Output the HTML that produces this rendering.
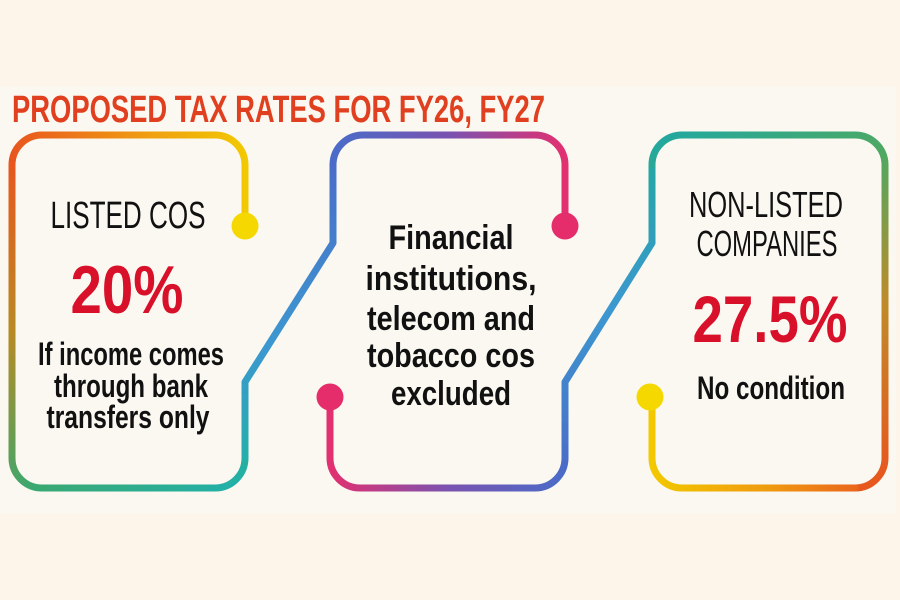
<!DOCTYPE html>
<html><head><meta charset="utf-8"><style>
html,body{margin:0;padding:0;background:#fdf4ea;}
svg{display:block}
text{font-family:"Liberation Sans Narrow","Liberation Sans",sans-serif;font-weight:bold;}
</style></head><body>
<svg width="900" height="600" viewBox="0 0 900 600" xmlns="http://www.w3.org/2000/svg">
<defs>
<linearGradient id="gA" gradientUnits="userSpaceOnUse" x1="12" y1="0" x2="245" y2="0"><stop offset="0" stop-color="#e8561e"/><stop offset="0.6" stop-color="#f0a010"/><stop offset="1" stop-color="#f2c800"/></linearGradient>
<linearGradient id="gB" gradientUnits="userSpaceOnUse" x1="12" y1="160" x2="245" y2="480"><stop offset="0" stop-color="#e8561e"/><stop offset="0.35" stop-color="#b88a24"/><stop offset="0.7" stop-color="#3aa870"/><stop offset="1" stop-color="#22b0a8"/></linearGradient>
<linearGradient id="gC" gradientUnits="userSpaceOnUse" x1="0" y1="470" x2="0" y2="160"><stop offset="0" stop-color="#22b0a8"/><stop offset="0.4" stop-color="#3c98d0"/><stop offset="1" stop-color="#4a6cc8"/></linearGradient>
<linearGradient id="gC2" gradientUnits="userSpaceOnUse" x1="333" y1="0" x2="565" y2="0"><stop offset="0" stop-color="#4a6cc8"/><stop offset="0.5" stop-color="#7a52b0"/><stop offset="1" stop-color="#e23070"/></linearGradient>
<linearGradient id="gD" gradientUnits="userSpaceOnUse" x1="330" y1="0" x2="565" y2="0"><stop offset="0" stop-color="#e23070"/><stop offset="0.5" stop-color="#7a52b0"/><stop offset="1" stop-color="#4a6cc8"/></linearGradient>
<linearGradient id="gD2" gradientUnits="userSpaceOnUse" x1="0" y1="470" x2="0" y2="150"><stop offset="0" stop-color="#4a6cc8"/><stop offset="0.5" stop-color="#3c98d0"/><stop offset="1" stop-color="#22a8a0"/></linearGradient>
<linearGradient id="gE" gradientUnits="userSpaceOnUse" x1="652" y1="140" x2="885" y2="480"><stop offset="0" stop-color="#22a8a0"/><stop offset="0.35" stop-color="#50a860"/><stop offset="0.65" stop-color="#c08a28"/><stop offset="1" stop-color="#e8561e"/></linearGradient>
<linearGradient id="gF" gradientUnits="userSpaceOnUse" x1="885" y1="0" x2="652" y2="0"><stop offset="0" stop-color="#e8561e"/><stop offset="0.5" stop-color="#f09a10"/><stop offset="1" stop-color="#f2c800"/></linearGradient>
<filter id="sh" x="-10%" y="-10%" width="120%" height="120%"><feGaussianBlur stdDeviation="6"/></filter>
</defs>
<rect x="0" y="87" width="896" height="426" fill="#faf8f1"/>
<text x="12" y="122" font-size="38" fill="#e0401f" textLength="533" lengthAdjust="spacingAndGlyphs">PROPOSED TAX RATES FOR FY26, FY27</text>
<g fill="none" stroke-width="7" stroke-linecap="round" stroke-linejoin="round">
<path d="M245 225 V165 A30 30 0 0 0 215 135 H42 A30 30 0 0 0 12 165" stroke="url(#gA)"/>
<path d="M12 165 V458 A30 30 0 0 0 42 488 H215 A30 30 0 0 0 245 458" stroke="url(#gB)"/>
<path d="M245 458 V382 L333 243 V165" stroke="url(#gC)"/>
<path d="M333 165 A30 30 0 0 1 363 135 H535 A30 30 0 0 1 565 165 V225" stroke="url(#gC2)"/>
<path d="M330 397 V458 A30 30 0 0 0 360 488 H535 A30 30 0 0 0 565 458" stroke="url(#gD)"/>
<path d="M565 458 V382 L652 243 V165" stroke="url(#gD2)"/>
<path d="M652 165 A30 30 0 0 1 682 135 H855 A30 30 0 0 1 885 165 V458 A30 30 0 0 1 855 488" stroke="url(#gE)"/>
<path d="M855 488 H682 A30 30 0 0 1 652 458 V397" stroke="url(#gF)"/>
</g>
<circle cx="245" cy="226" r="13.5" fill="#f5d800"/>
<circle cx="565" cy="226" r="13.5" fill="#e42d6a"/>
<circle cx="330" cy="397" r="13.5" fill="#e42d6a"/>
<circle cx="650" cy="397" r="13.5" fill="#f5d800"/>
<g fill="#111" text-anchor="middle">
<text x="128" y="228" font-size="38" font-weight="normal" textLength="155" lengthAdjust="spacingAndGlyphs" style="font-weight:normal">LISTED COS</text>
<text x="127" y="313" font-size="68" fill="#d8102a" textLength="113" lengthAdjust="spacingAndGlyphs">20%</text>
<text x="131" y="365" font-size="32" textLength="186" lengthAdjust="spacingAndGlyphs">If income comes</text>
<text x="131" y="397" font-size="32" textLength="154" lengthAdjust="spacingAndGlyphs">through bank</text>
<text x="128" y="428" font-size="32" textLength="163" lengthAdjust="spacingAndGlyphs">transfers only</text>
<text x="451" y="249" font-size="34" textLength="125" lengthAdjust="spacingAndGlyphs">Financial</text>
<text x="451" y="290" font-size="34" textLength="171" lengthAdjust="spacingAndGlyphs">institutions,</text>
<text x="451" y="330" font-size="34" textLength="168" lengthAdjust="spacingAndGlyphs">telecom and</text>
<text x="451" y="367" font-size="34" textLength="168" lengthAdjust="spacingAndGlyphs">tobacco cos</text>
<text x="451" y="405" font-size="34" textLength="120" lengthAdjust="spacingAndGlyphs">excluded</text>
<text x="766" y="217" font-size="36" textLength="154" lengthAdjust="spacingAndGlyphs" style="font-weight:normal">NON-LISTED</text>
<text x="767" y="256" font-size="36" textLength="141" lengthAdjust="spacingAndGlyphs" style="font-weight:normal">COMPANIES</text>
<text x="770" y="342" font-size="66" fill="#d8102a" textLength="155" lengthAdjust="spacingAndGlyphs">27.5%</text>
<text x="771" y="399" font-size="32" textLength="148" lengthAdjust="spacingAndGlyphs">No condition</text>
</g>
</svg>
</body></html>
